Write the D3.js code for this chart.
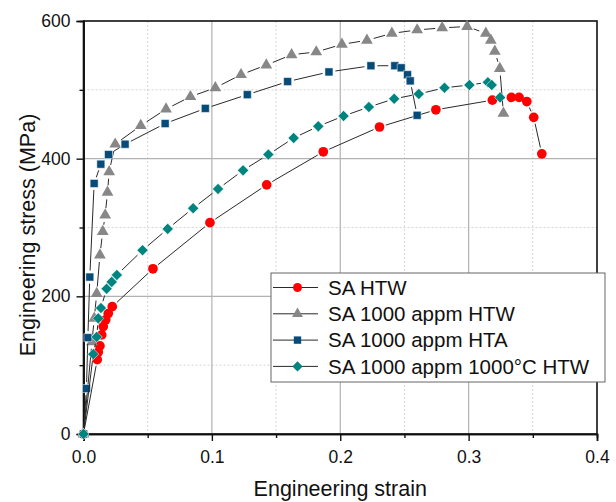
<!DOCTYPE html>
<html><head><meta charset="utf-8">
<script src="https://cdn.jsdelivr.net/npm/d3@7"></script>
<style>
html,body{margin:0;padding:0;background:#fff;}
svg{display:block;font-family:"Liberation Sans",Arial,sans-serif;}
</style></head>
<body><svg id="c" width="616" height="502"></svg>
<script>
// ---- data ----
const seriesNames = ["SA HTW","SA 1000 appm HTW","SA 1000 appm HTA","SA 1000 appm 1000°C HTW"];
const saHtwStrain = [0,0.0107,0.0115,0.0128,0.0142,0.0154,0.0173,0.0193,0.0224,0.0541,0.0985,0.1427,0.1868,0.2306,0.2745,0.3185,0.3333,0.3393,0.3453,0.3507,0.357];
const saHtwStress = [0,108,119,128,144,156,166,175,185,240,307,362,410,446,471,485,489,489,483,460,407];
const appmHtwStrain = [0,0.0066,0.0084,0.0103,0.0128,0.015,0.0169,0.0187,0.02,0.0247,0.0446,0.0643,0.0833,0.1027,0.1227,0.1424,0.1621,0.1813,0.2013,0.2208,0.2402,0.2599,0.2794,0.2988,0.3134,0.3173,0.3204,0.3243,0.3271];
const appmHtwStress = [0,134,168,204,260,294,318,351,381,421,448,472,490,503,522,536,551,555,566,572,582,587,590,592,582,572,556,531,466];
const appmHtaStrain = [0,0.0023,0.0034,0.0049,0.0083,0.0135,0.0195,0.0324,0.0636,0.0949,0.1276,0.159,0.1912,0.2239,0.2425,0.2475,0.2524,0.2545,0.2599];
const appmHtaStress = [0,66,140,228,364,392,406,421,451,473,493,512,526,535,535,532,522,513,463];
const appm1000Strain = [0,0.0076,0.0103,0.0115,0.0136,0.018,0.022,0.026,0.046,0.0656,0.0854,0.1048,0.1243,0.144,0.1637,0.1829,0.2026,0.2223,0.242,0.2612,0.2812,0.3006,0.315,0.318,0.3245];
const appm1000Stress = [0,116,141,168,183,211,221,231,267,298,328,356,383,406,430,447,462,475,487,494,503,507,511,507,489];
const xTicks = [0,0.1,0.2,0.3,0.4];
const xMinor = [0.05,0.15,0.25,0.35];
const yTicks = [0,200,400,600];
const yMinor = [100,300,500];

const series = [
  {name:seriesNames[0], x:saHtwStrain, y:saHtwStress, color:"#ff0000", shape:"circle"},
  {name:seriesNames[1], x:appmHtwStrain, y:appmHtwStress, color:"#878787", shape:"triangle"},
  {name:seriesNames[2], x:appmHtaStrain, y:appmHtaStress, color:"#064b79", shape:"square"},
  {name:seriesNames[3], x:appm1000Strain, y:appm1000Stress, color:"#008480", shape:"diamond"}
];

const svg = d3.select("#c");
const L=83.5, R=597, T=21, B=434;
const x = d3.scaleLinear().domain([0,0.4]).range([L,R]);
const y = d3.scaleLinear().domain([0,600]).range([B,T]);

// grid
const g = svg.append("g");
g.selectAll(".mx").data(xMinor).join("line")
  .attr("x1",d=>x(d)).attr("x2",d=>x(d)).attr("y1",T).attr("y2",B)
  .attr("stroke","#d4d4d4").attr("stroke-width",1).attr("stroke-dasharray","2,2");
g.selectAll(".my").data(yMinor).join("line")
  .attr("y1",d=>y(d)).attr("y2",d=>y(d)).attr("x1",L).attr("x2",R)
  .attr("stroke","#d4d4d4").attr("stroke-width",1).attr("stroke-dasharray","2,2");
g.selectAll(".Mx").data(xTicks.slice(1,-1)).join("line")
  .attr("x1",d=>x(d)).attr("x2",d=>x(d)).attr("y1",T).attr("y2",B)
  .attr("stroke","#b2b2b2").attr("stroke-width",1.2);
g.selectAll(".My").data(yTicks.slice(1,-1)).join("line")
  .attr("y1",d=>y(d)).attr("y2",d=>y(d)).attr("x1",L).attr("x2",R)
  .attr("stroke","#b2b2b2").attr("stroke-width",1.2);

// border
svg.append("rect").attr("x",L).attr("y",T).attr("width",R-L).attr("height",B-T)
  .attr("fill","none").attr("stroke","#111").attr("stroke-width",1.6);

// axes
const fontTick = "17.5px";
svg.append("g").attr("transform",`translate(0,${B})`)
  .call(d3.axisBottom(x).tickValues(xTicks).tickFormat(d3.format(".1f")).tickSizeOuter(0).tickSize(7).tickPadding(10));
svg.append("g").attr("transform",`translate(0,${B})`)
  .call(d3.axisBottom(x).tickValues(xMinor).tickFormat("").tickSizeOuter(0).tickSize(4));
svg.append("g").attr("transform",`translate(${L},0)`)
  .call(d3.axisLeft(y).tickValues(yTicks).tickFormat(d3.format("d")).tickSizeOuter(0).tickSize(7).tickPadding(6));
svg.append("g").attr("transform",`translate(${L},0)`)
  .call(d3.axisLeft(y).tickValues(yMinor).tickFormat("").tickSizeOuter(0).tickSize(4));
svg.selectAll(".domain").attr("stroke","#111").attr("stroke-width",1.6);
svg.selectAll(".tick line").attr("stroke","#111").attr("stroke-width",1.4);
svg.selectAll(".tick text").attr("font-size",fontTick).attr("fill","#111")
  .attr("font-family","'Liberation Sans',Arial,sans-serif");

// titles
svg.append("text").attr("x",(L+R)/2).attr("y",496).attr("text-anchor","middle")
  .attr("font-size","21.5px").attr("fill","#111").text("Engineering strain");
svg.append("text").attr("transform",`translate(35,235) rotate(-90)`).attr("text-anchor","middle")
  .attr("font-size","21.5px").attr("fill","#111").text("Engineering stress (MPa)");

// symbol helper
function symPath(shape, k){
  k = k||1;
  if(shape==="circle") return d3.symbol(d3.symbolCircle, 74*k)();
  if(shape==="triangle") return d3.symbol(d3.symbolTriangle, 60*k)();
  if(shape==="square") return d3.symbol(d3.symbolSquare, 64*k)();
  return d3.symbol(d3.symbolSquare, 62*k)();
}
const gapR = {circle:6.5, triangle:7, square:6.5, diamond:7};

const plot = svg.append("g");
series.forEach(s=>{
  const pts = s.x.map((v,i)=>[x(v), y(s.y[i])]);
  const segs = [];
  for(let i=1;i<pts.length;i++){
    const [x0,y0]=pts[i-1],[x1,y1]=pts[i];
    const dx=x1-x0, dy=y1-y0, len=Math.hypot(dx,dy);
    const gp = gapR[s.shape];
    if(len>2*gp+1){
      const ux=dx/len, uy=dy/len;
      segs.push([x0+ux*gp,y0+uy*gp,x1-ux*gp,y1-uy*gp]);
    }
  }
  plot.append("g").selectAll("line").data(segs).join("line")
    .attr("x1",d=>d[0]).attr("y1",d=>d[1]).attr("x2",d=>d[2]).attr("y2",d=>d[3])
    .attr("stroke","#2a2a2a").attr("stroke-width",1);
  plot.append("g").selectAll("path").data(pts).join("path")
    .attr("d",symPath(s.shape))
    .attr("transform",d=>`translate(${d[0]},${d[1]})`+(s.shape==="diamond"?" rotate(45)":""))
    .attr("fill",s.color)
    .attr("stroke",s.shape==="square"||s.shape==="diamond"?"#ffffff":"none")
    .attr("stroke-width",0.5);
});

// legend
const lg = svg.append("g");
lg.append("rect").attr("x",271).attr("y",273).attr("width",334).attr("height",109)
  .attr("fill","#fff").attr("stroke","#666").attr("stroke-width",1);
series.forEach((s,i)=>{
  const cy = 287.5 + i*26.3;
  lg.append("line").attr("x1",273).attr("x2",318).attr("y1",cy).attr("y2",cy)
    .attr("stroke","#2a2a2a").attr("stroke-width",1);
  lg.append("path").attr("d",symPath(s.shape,0.85))
    .attr("transform",`translate(297.5,${cy})`+(s.shape==="diamond"?" rotate(45)":""))
    .attr("fill",s.color);
  lg.append("text").attr("x",328).attr("y",cy+7.3).attr("font-size","20.5px")
    .attr("fill","#111").text(s.name);
});
</script></body></html>
